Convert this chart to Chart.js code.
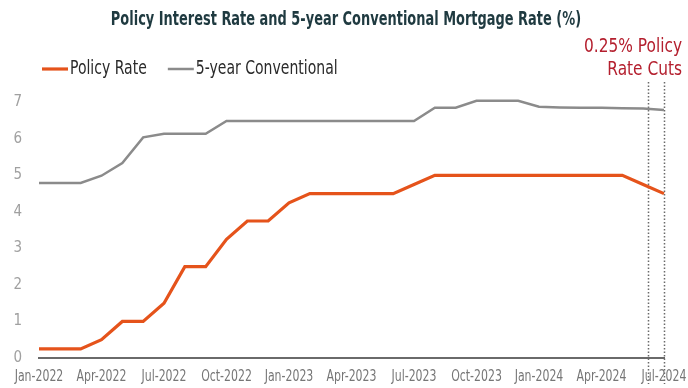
<!DOCTYPE html>
<html>
<head>
<meta charset="utf-8">
<script src="https://cdn.jsdelivr.net/npm/chart.js@4.4.1/dist/chart.umd.min.js"></script>
<style>
  html, body { margin: 0; padding: 0; background: #fff; }
  #wrap { width: 688px; height: 388px; }
</style>
</head>
<body>
<div id="wrap"><canvas id="rateChart" width="688" height="388"></canvas></div>
<script>
// monthly series, Jan-2022 .. Jul-2024
const months = [
  'Jan-2022', 'Feb-2022', 'Mar-2022', 'Apr-2022', 'May-2022', 'Jun-2022',
  'Jul-2022', 'Aug-2022', 'Sep-2022', 'Oct-2022', 'Nov-2022', 'Dec-2022',
  'Jan-2023', 'Feb-2023', 'Mar-2023', 'Apr-2023', 'May-2023', 'Jun-2023',
  'Jul-2023', 'Aug-2023', 'Sep-2023', 'Oct-2023', 'Nov-2023', 'Dec-2023',
  'Jan-2024', 'Feb-2024', 'Mar-2024', 'Apr-2024', 'May-2024', 'Jun-2024',
  'Jul-2024'
];
const policyRate = [
  0.25, 0.25, 0.25, 0.5, 1.0, 1.0, 1.5, 2.5, 2.5, 3.25, 3.75, 3.75,
  4.25, 4.5, 4.5, 4.5, 4.5, 4.5, 4.75, 5.0, 5.0, 5.0, 5.0, 5.0,
  5.0, 5.0, 5.0, 5.0, 5.0, 4.75, 4.5
];
const fiveYear = [
  4.79, 4.79, 4.79, 4.99, 5.34, 6.04, 6.14, 6.14, 6.14, 6.49, 6.49, 6.49,
  6.49, 6.49, 6.49, 6.49, 6.49, 6.49, 6.49, 6.85, 6.85, 7.04, 7.04, 7.04,
  6.88, 6.86, 6.85, 6.85, 6.84, 6.83, 6.79
];
const yTicks = [0, 1, 2, 3, 4, 5, 6, 7];
// a date label every third month
const xTickEvery = 3;
// positions (in months from Jan-2022) of the two 25bp cuts
const cutMarks = [29.25, 30];

const titleText = 'Policy Interest Rate and 5-year Conventional Mortgage Rate (%)';
const noteLines = ['0.25% Policy', 'Rate Cuts'];
const FONT = '"DejaVu Sans Condensed", "Liberation Sans Narrow", sans-serif';

// text squeezed sideways, the fonts on hand are wider than the narrow face used here
function squeezed(ctx, text, x, y, sx, align) {
  ctx.save();
  ctx.translate(x, y);
  ctx.scale(sx, 1);
  ctx.textAlign = align;
  ctx.fillText(text, 0, 0);
  ctx.restore();
}

const overlay = {
  id: 'overlay',
  beforeDatasetsDraw(chart) {
    const { ctx, scales: { x } } = chart;
    ctx.save();
    ctx.setLineDash([1.5, 2]);
    ctx.strokeStyle = '#6a6a6a';
    ctx.lineWidth = 1.5;
    cutMarks.forEach(m => {
      const px = Math.round(x.getPixelForValue(m)) + 0.5;
      ctx.beginPath();
      ctx.moveTo(px, 82);
      ctx.lineTo(px, 384);
      ctx.stroke();
    });
    ctx.restore();
  },
  afterDraw(chart) {
    const { ctx, scales: { x } } = chart;
    ctx.save();
    ctx.textBaseline = 'middle';

    // x tick labels
    ctx.font = '16px ' + FONT;
    ctx.fillStyle = '#767676';
    months.forEach((m, i) => {
      if (i % xTickEvery === 0) squeezed(ctx, m, x.getPixelForValue(i), 377, 0.76, 'center');
    });

    // title
    ctx.font = 'bold 20px ' + FONT;
    ctx.fillStyle = '#1f3a40';
    squeezed(ctx, titleText, chart.width / 2 + 2, 20, 0.72, 'center');

    // legend
    ctx.font = '19px ' + FONT;
    let lx = 42;
    chart.data.datasets.forEach(ds => {
      ctx.strokeStyle = ds.borderColor;
      ctx.lineWidth = ds.borderWidth;
      ctx.beginPath();
      ctx.moveTo(lx, 69);
      ctx.lineTo(lx + 26, 69);
      ctx.stroke();
      ctx.fillStyle = '#2a2a2a';
      squeezed(ctx, ds.label, lx + 28, 69, 0.82, 'left');
      lx += 28 + ctx.measureText(ds.label).width * 0.82 + 21;
    });

    // note over the cut markers
    ctx.font = '19px ' + FONT;
    ctx.fillStyle = '#b41f2e';
    noteLines.forEach((t, i) => squeezed(ctx, t, 682, 47 + i * 23, 0.9, 'right'));
    ctx.restore();
  }
};

new Chart(document.getElementById('rateChart'), {
  type: 'line',
  data: {
    labels: months,
    datasets: [
      {
        label: 'Policy Rate',
        data: policyRate,
        borderColor: '#e5531b',
        borderWidth: 3.2,
        pointRadius: 0,
        tension: 0
      },
      {
        label: '5-year Conventional',
        data: fiveYear,
        borderColor: '#8b8b8b',
        borderWidth: 2.5,
        pointRadius: 0,
        tension: 0
      }
    ]
  },
  options: {
    responsive: false,
    animation: false,
    layout: { padding: { top: 95, left: 0, right: 24, bottom: 0 } },
    plugins: {
      legend: { display: false },
      title: { display: false },
      tooltip: { enabled: false }
    },
    scales: {
      x: {
        type: 'category',
        offset: false,
        grid: { display: false, drawTicks: false },
        border: { display: true, color: '#6a6a6a', width: 2 },
        ticks: { display: false },
        afterFit: s => { s.height = 30; }
      },
      y: {
        min: 0,
        max: 7.2,
        grid: { display: false, drawTicks: false },
        border: { display: false },
        afterBuildTicks: s => { s.ticks = yTicks.map(v => ({ value: v })); },
        afterFit: s => { s.width = 39; },
        ticks: {
          padding: 17,
          color: '#a0a0a0',
          font: { family: FONT, size: 15 }
        }
      }
    }
  },
  plugins: [overlay]
});
</script>
</body>
</html>
